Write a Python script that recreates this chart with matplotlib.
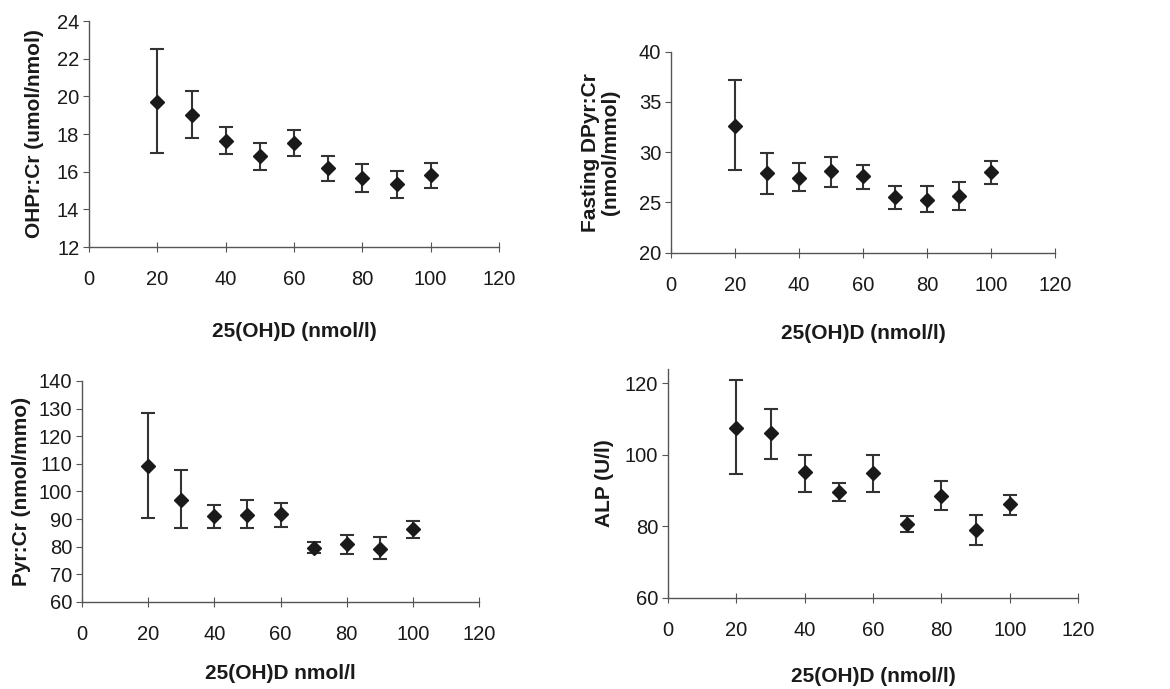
import matplotlib
matplotlib.use("Agg")
from matplotlib import pyplot as plt

plt.rcParams['font.family'] = ['Liberation Sans', 'DejaVu Sans']

vitd = [20, 30, 40, 50, 60, 70, 80, 90, 100]

# OHPr:Cr
ohpr = [19.72, 19.01, 17.63, 16.83, 17.54, 16.22, 15.69, 15.35, 15.80]
ohpr_hi = [22.53, 20.27, 18.39, 17.54, 18.23, 16.83, 16.40, 16.05, 16.47]
ohpr_lo = [16.97, 17.79, 16.92, 16.08, 16.83, 15.50, 14.91, 14.61, 15.14]

# Fasting DPyr:Cr
dpyr = [32.64, 27.96, 27.46, 28.13, 27.63, 25.54, 25.21, 25.67, 28.03]
dpyr_hi = [37.18, 29.92, 28.92, 29.55, 28.76, 26.60, 26.60, 27.00, 29.16]
dpyr_lo = [28.19, 25.84, 26.10, 26.50, 26.33, 24.34, 24.08, 24.25, 26.83]

# Pyr:Cr
pyr = [109.3, 96.9, 91.1, 91.5, 91.7, 79.7, 80.9, 79.1, 86.4]
pyr_hi = [128.3, 107.8, 95.1, 96.8, 96.0, 81.8, 84.4, 83.5, 89.2]
pyr_lo = [90.3, 86.6, 86.6, 86.6, 87.2, 77.6, 77.3, 75.4, 83.2]

# ALP
alp = [107.5, 106.0, 95.3, 89.7, 94.8, 80.6, 88.6, 78.9, 86.2]
alp_hi = [120.9, 112.8, 100.0, 92.2, 100.0, 83.0, 92.6, 83.1, 88.7]
alp_lo = [94.7, 98.9, 89.6, 87.1, 89.6, 78.3, 84.5, 74.7, 83.1]

xticks = [0, 20, 40, 60, 80, 100, 120]

ink = '#1a1a1a'
axc = '#555555'

fig = plt.figure(figsize=(11.7, 6.89), dpi=100)


def panel(rect, y, hi, lo, ylim, yticks, ylabel, xlabel, ylab_x, xlab_y):
    ax = fig.add_axes(rect)
    err = [[v - l for v, l in zip(y, lo)], [h - v for v, h in zip(y, hi)]]
    ax.errorbar(vitd, y, yerr=err, fmt='D', color=ink, ms=7, mec=ink,
                ecolor='#333333', elinewidth=1.5, capsize=5, capthick=1.5)
    ax.set_xlim(0, 120)
    ax.set_ylim(*ylim)
    ax.set_xticks(xticks)
    ax.set_yticks(yticks)
    for s in ['top', 'right']:
        ax.spines[s].set_visible(False)
    for s in ['left', 'bottom']:
        ax.spines[s].set_color(axc)
        ax.spines[s].set_linewidth(1.0)
    ax.tick_params(axis='y', direction='out', length=4, color=axc,
                   labelsize=14.5, labelcolor=ink, pad=3)
    ax.tick_params(axis='x', direction='inout', length=7, color=axc,
                   labelsize=14.5, labelcolor=ink, pad=13)
    ax.set_ylabel(ylabel, fontsize=15, fontweight='bold', color=ink,
                  linespacing=1.1)
    ax.set_xlabel(xlabel, fontsize=15, fontweight='bold', color=ink)
    ax.yaxis.set_label_coords(ylab_x, 0.5)
    ax.xaxis.set_label_coords(0.5, xlab_y)
    return ax


panel([0.0761, 0.6415, 0.3504, 0.328], ohpr, ohpr_hi, ohpr_lo, (12, 24),
      [12, 14, 16, 18, 20, 22, 24], 'OHPr:Cr (umol/nmol)', '25(OH)D (nmol/l)',
      -0.110, -0.33)
panel([0.5735, 0.6332, 0.3282, 0.2917], dpyr, dpyr_hi, dpyr_lo, (20, 40),
      [20, 25, 30, 35, 40], 'Fasting DPyr:Cr\n(nmol/mmol)', '25(OH)D (nmol/l)',
      -0.132, -0.353)
panel([0.0701, 0.1263, 0.3393, 0.3208], pyr, pyr_hi, pyr_lo, (60, 140),
      [60, 70, 80, 90, 100, 110, 120, 130, 140], 'Pyr:Cr (nmol/mmo)', '25(OH)D nmol/l',
      -0.128, -0.28)
panel([0.571, 0.1321, 0.3504, 0.3324], alp, alp_hi, alp_lo, (60, 124),
      [60, 80, 100, 120], 'ALP (U/l)', '25(OH)D (nmol/l)',
      -0.132, -0.30)

fig.savefig('out.png', dpi=100, facecolor='white')
